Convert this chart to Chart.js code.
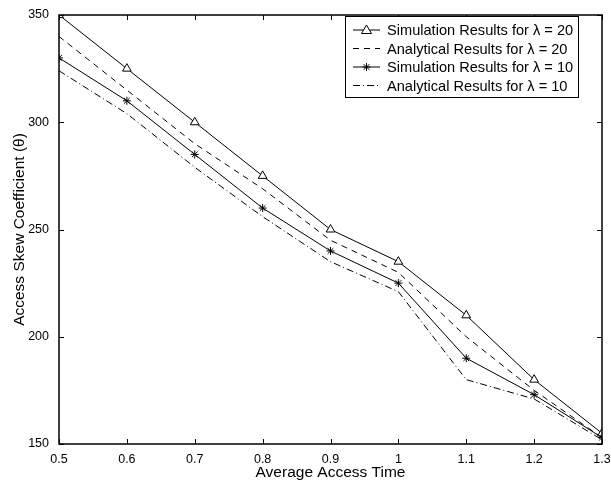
<!DOCTYPE html>
<html>
<head>
<meta charset="utf-8">
<script src="https://cdn.jsdelivr.net/npm/chart.js@4/dist/chart.umd.min.js"></script>
<style>
  html, body { margin: 0; padding: 0; background: #fff; }
  #wrap { width: 611px; height: 483px; }
</style>
</head>
<body>
<div id="wrap"><canvas id="skewChart"></canvas></div>
<script>
// data
const accessTimes = [0.5, 0.6, 0.7, 0.8, 0.9, 1.0, 1.1, 1.2, 1.3];
const simLambda20 = [350, 325, 300, 275, 250, 235, 210, 180, 155];
const anaLambda20 = [340, 315, 290, 269, 245, 230, 200, 175, 153];
const simLambda10 = [330, 310, 285, 260, 240, 225, 190, 173, 153];
const anaLambda10 = [324, 304, 279, 256, 235, 221, 180, 171, 152];
const xTicks = [0.5, 0.6, 0.7, 0.8, 0.9, 1.0, 1.1, 1.2, 1.3];
const yTicks = [150, 200, 250, 300, 350];

const FONT = 'Liberation Sans, Arial, Helvetica, sans-serif';

const pts = arr => arr.map((v, i) => ({ x: accessTimes[i], y: v }));

// matlab style ticks pointing into the box
const innerTicks = {
    id: 'innerTicks',
    afterDatasetsDraw(chart) {
        const { ctx, chartArea: a, scales } = chart;
        ctx.save();
        ctx.strokeStyle = '#000';
        ctx.lineWidth = 1;
        ctx.beginPath();
        xTicks.forEach(t => {
            const px = Math.round(scales.x.getPixelForValue(t)) + 0.5;
            ctx.moveTo(px, a.bottom); ctx.lineTo(px, a.bottom - 5);
            ctx.moveTo(px, a.top); ctx.lineTo(px, a.top + 5);
        });
        yTicks.forEach(t => {
            const py = Math.round(scales.y.getPixelForValue(t)) + 0.5;
            ctx.moveTo(a.left, py); ctx.lineTo(a.left + 5, py);
            ctx.moveTo(a.right, py); ctx.lineTo(a.right - 5, py);
        });
        ctx.stroke();
        ctx.lineWidth = 1.5;
        ctx.strokeRect(a.left, a.top, a.right - a.left, a.bottom - a.top);
        ctx.restore();
    }
};

// boxed legend inside the plot, top right
const boxLegend = {
    id: 'boxLegend',
    afterDraw(chart) {
        const { ctx } = chart;
        const x0 = 345, y0 = 16, w = 233, h = 81;
        ctx.save();
        ctx.fillStyle = '#fff';
        ctx.fillRect(x0, y0, w, h);
        ctx.strokeStyle = '#000';
        ctx.lineWidth = 1;
        ctx.strokeRect(x0 + 0.5, y0 + 0.5, w, h);
        chart.data.datasets.forEach((ds, i) => {
            const y = y0 + 14 + i * 18.5;
            ctx.beginPath();
            ctx.setLineDash(ds.borderDash || []);
            ctx.lineWidth = 1;
            ctx.strokeStyle = '#000';
            ctx.moveTo(353, y); ctx.lineTo(380, y);
            ctx.stroke();
            ctx.setLineDash([]);
            if (ds.pointStyle === 'triangle') {
                ctx.fillStyle = '#fff';
                ctx.beginPath();
                ctx.moveTo(366.5, y - 5); ctx.lineTo(371.5, y + 3.5); ctx.lineTo(361.5, y + 3.5); ctx.closePath();
                ctx.fill(); ctx.stroke();
            } else if (ds.pointStyle === 'star') {
                Chart.helpers.drawPoint(ctx, { pointStyle: 'star', radius: 4, borderWidth: 1 }, 366.5, y);
            }
            ctx.fillStyle = '#000';
            ctx.font = '14.6px ' + FONT;
            ctx.textBaseline = 'middle';
            ctx.fillText(ds.label, 387, y + 1);
        });
        ctx.restore();
    }
};

new Chart(document.getElementById('skewChart'), {
    type: 'line',
    data: {
        datasets: [
            { label: 'Simulation Results for λ = 20', data: pts(simLambda20), borderColor: '#000', borderWidth: 1,
              pointStyle: 'triangle', pointRadius: 5, pointBackgroundColor: '#fff', pointBorderColor: '#000', pointBorderWidth: 1 },
            { label: 'Analytical Results for λ = 20', data: pts(anaLambda20), borderColor: '#000', borderWidth: 1,
              borderDash: [6, 5], pointRadius: 0 },
            { label: 'Simulation Results for λ = 10', data: pts(simLambda10), borderColor: '#000', borderWidth: 1,
              pointStyle: 'star', pointRadius: 4, pointBorderColor: '#000', pointBorderWidth: 1 },
            { label: 'Analytical Results for λ = 10', data: pts(anaLambda10), borderColor: '#000', borderWidth: 1,
              borderDash: [7, 3, 1, 3], pointRadius: 0 }
        ]
    },
    options: {
        responsive: true,
        maintainAspectRatio: false,
        animation: false,
        layout: { padding: { left: 0, right: 9, top: 15, bottom: 0 } },
        plugins: { legend: { display: false }, tooltip: { enabled: false } },
        scales: {
            x: {
                type: 'linear', min: 0.5, max: 1.3,
                afterBuildTicks: s => { s.ticks = xTicks.map(v => ({ value: v })); },
                afterFit: s => { s.height = 39; },
                grid: { display: false },
                border: { display: false },
                ticks: { color: '#000', font: { family: FONT, size: 12.5 }, padding: 0, maxRotation: 0,
                         callback: v => String(Math.round(v * 10) / 10) },
                title: { display: true, text: 'Average Access Time', color: '#000',
                         font: { family: FONT, size: 15.5 }, padding: { top: 0, bottom: 1 } }
            },
            y: {
                min: 150, max: 350,
                afterBuildTicks: s => { s.ticks = yTicks.map(v => ({ value: v })); },
                afterFit: s => { s.width = 59; },
                grid: { display: false },
                border: { display: false },
                ticks: { color: '#000', font: { family: FONT, size: 12.5 }, padding: 2 },
                title: { display: true, text: 'Access Skew Coefficient (θ)', color: '#000',
                         font: { family: FONT, size: 15.5 }, padding: { top: 10, bottom: 0 } }
            }
        }
    },
    plugins: [innerTicks, boxLegend]
});
</script>
</body>
</html>
